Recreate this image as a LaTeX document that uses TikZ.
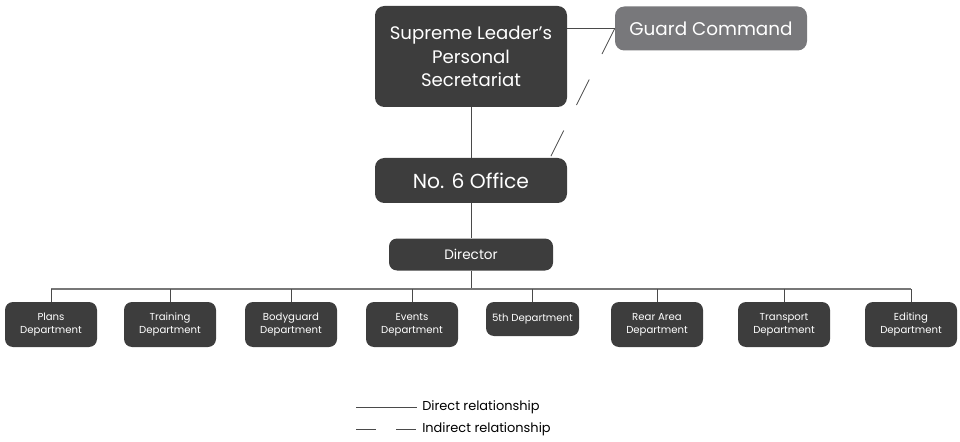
\documentclass[tikz,border=0pt]{standalone}
\usepackage{fontspec}
\setmainfont{Poppins}
\usetikzlibrary{calc}
\definecolor{BoxClr}{HTML}{3D3D3D}
\definecolor{GuardClr}{HTML}{78787B}
\definecolor{LineClr}{HTML}{4A4A4A}

\begin{document}
\begin{tikzpicture}[x=0.75pt,y=-0.75pt,
  unitbox/.style={fill=BoxClr,text=white,align=center,inner sep=0pt,rounded corners=7pt},
  topbox/.style={unitbox,minimum width=144pt,font=\fontsize{15.2}{18}\selectfont},
  deptbox/.style={unitbox,minimum width=69pt,minimum height=33.75pt,rounded corners=6pt,font=\fontsize{7.6}{9.6}\selectfont},
  link/.style={draw=LineClr,line width=0.6pt},
  farlink/.style={link,dash pattern=on 21.4pt off 21.4pt},
  keytext/.style={anchor=west,inner sep=0pt,font=\fontsize{9.7}{11}\selectfont}]
\useasboundingbox (0,0) rectangle (960,442);

% top of the chart
\node[topbox,minimum height=75.75pt,font=\fontsize{13.6}{17.6}\selectfont] (secr) at (471,56.5) {Supreme Leader’s\\Personal\\Secretariat};
\node[topbox,minimum height=33pt,fill=GuardClr,font=\fontsize{13.8}{17}\selectfont] (guard) at (711,28.5) {Guard Command};
\node[topbox,minimum height=33.75pt] (office) at (471,180.5) {No. 6 Office};
\node[unitbox,minimum width=123pt,minimum height=24pt,rounded corners=6pt,font=\fontsize{10.2}{12}\selectfont] (director) at (471,254.5) {Director};

% departments
\node[deptbox] (plans) at (51,324.5) {Plans\\Department};
\node[deptbox] (training) at (170,324.5) {Training\\Department};
\node[deptbox] (bodyguard) at (291,324.5) {Bodyguard\\Department};
\node[deptbox] (events) at (412,324.5) {Events\\Department};
\node[deptbox,minimum width=69.75pt,minimum height=25.5pt] (fifth) at (532.5,319) {5th Department};
\node[deptbox] (reararea) at (657,324.5) {Rear Area\\Department};
\node[deptbox] (transport) at (784,324.5) {Transport\\Department};
\node[deptbox] (editing) at (911,324.5) {Editing\\Department};

% connectors
\coordinate (bus) at (471,289);
\coordinate (hinge) at (550,158);
\draw[link] (secr) -- (office);
\draw[link] (secr.east |- guard.west) -- (guard.west);
\draw[farlink] (guard.west) -- (hinge);
\draw[link] (office) -- (director);
\draw[link] (director) -- (bus);
\draw[link,line width=1pt,draw=LineClr!75] (plans.north |- bus) -- (editing.north |- bus);
\draw[link] (plans.north) -- (plans.north |- bus);
\draw[link] (training.north) -- (training.north |- bus);
\draw[link] (bodyguard.north) -- (bodyguard.north |- bus);
\draw[link] (events.north) -- (events.north |- bus);
\draw[link] (fifth.north) -- (fifth.north |- bus);
\draw[link] (reararea.north) -- (reararea.north |- bus);
\draw[link] (transport.north) -- (transport.north |- bus);
\draw[link] (editing.north) -- (editing.north |- bus);

% key
\coordinate (keyA) at (356,407);
\coordinate (keyB) at (417,407);
\coordinate (keyC) at (356,429);
\coordinate (keyD) at (417,429);
\node[keytext] (direct) at (422,407) {Direct relationship};
\node[keytext] (indirect) at (422,429) {Indirect relationship};
\draw[link] (keyA) -- (keyB);
\draw[link,dash pattern=on 15pt off 15pt] (keyC) -- (keyD);

\end{tikzpicture}
\end{document}
